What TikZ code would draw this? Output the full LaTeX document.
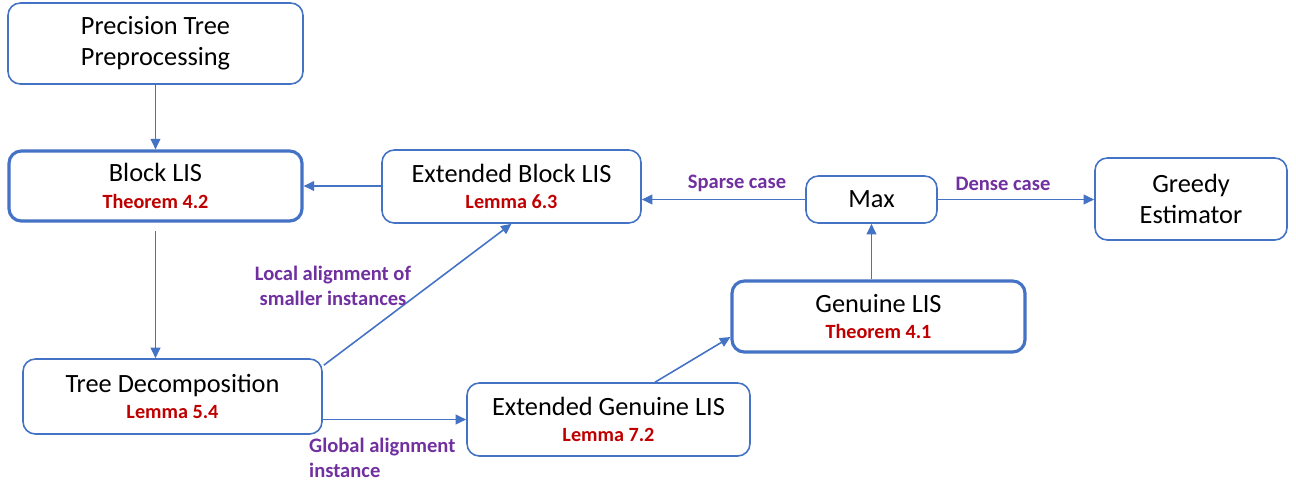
\documentclass[tikz,border=0pt]{standalone}
\usepackage{fontspec}
\setmainfont{Carlito}
\usepackage{tikz}
\usetikzlibrary{calc}
\usetikzlibrary{arrows.meta}
\usetikzlibrary{positioning}
\definecolor{boxblue}{RGB}{68,114,196}
\definecolor{lemred}{RGB}{192,0,0}
\definecolor{casepurple}{RGB}{112,48,160}
\newcommand{\lemtxt}[1]{{\fontsize{11.5}{14}\selectfont\bfseries\color{lemred}#1}}

\begin{document}
\begin{tikzpicture}[x=0.02cm, y=-0.02cm,
    font=\fontsize{15}{17.6}\selectfont,
    >={Triangle[length=6pt,width=5.5pt]},
    blk/.style={draw=boxblue, line width=0.9pt, rounded corners=7pt, align=center,
      inner sep=0pt, fill=white},
    thickblk/.style={blk, line width=1.8pt},
    lnk/.style={draw=boxblue, line width=0.9pt},
    casetxt/.style={font=\fontsize{11.7}{14.2}\selectfont\bfseries, text=casepurple}]
            \useasboundingbox (0,0) rectangle (1296,481);
            \node[blk, minimum width=295*0.02cm, minimum height=81*0.02cm] (pre) at (155.5,43.5) {
              Precision Tree\\Preprocessing
            };
            \node[thickblk, minimum width=293*0.02cm, minimum height=70*0.02cm] (block) at (155.5,186) {
              Block LIS\\[-2.5pt]\lemtxt{Theorem 4.2}
            };
            \node[blk, minimum width=259*0.02cm, minimum height=73*0.02cm] (eblock) at (511.5,186.5) {
              Extended Block LIS\\[-2.5pt]\lemtxt{Lemma 6.3}
            };
            \node[blk, minimum width=131*0.02cm, minimum height=47*0.02cm] (max) at (871.5,199.5) {Max};
            \node[blk, minimum width=192*0.02cm, minimum height=82*0.02cm] (greedy) at (1191,199) {
              Greedy\\Estimator
            };
            \node[thickblk, minimum width=293*0.02cm, minimum height=71*0.02cm] (genuine) at (878.5,316.5) {
              Genuine LIS\\[-2.5pt]\lemtxt{Theorem 4.1}
            };
            \node[blk, minimum width=299*0.02cm, minimum height=75*0.02cm] (tree) at (172.5,396.5) {
              Tree Decomposition\\[-2.5pt]\lemtxt{Lemma 5.4}
            };
            \node[blk, minimum width=283*0.02cm, minimum height=73*0.02cm] (egen) at (608.5,419.5) {
              Extended Genuine LIS\\[-2.5pt]\lemtxt{Lemma 7.2}
            };
            % connectors
            \draw[lnk,->] (pre.south) -- (block.north);
            \draw[lnk,->] (eblock.west |- block.east) -- (block.east);
            \draw[lnk,->] (max.west) -- (max.west -| eblock.east);
            \draw[lnk,->] (max.east) -- (max.east -| greedy.west);
            \draw[lnk,->] (genuine.north -| max.south) -- (max.south);
            \draw[lnk,->,shorten <=5pt] (block.south) -- (block.south |- tree.north);
            \draw[lnk,->] ($(tree.north east)+(1,7)$) -- (eblock.south);
            \draw[lnk,->] (tree.east |- egen.west) -- (egen.west);
            \draw[lnk,->] ($(egen.north)+(46.5,0)$) -- ($(genuine.west)+(0,20.5)$);
            % case labels
            \node[casetxt] (sparse) at (737,183) {Sparse case};
            \node[casetxt] (dense) at (1003,184) {Dense case};
            \node[casetxt, align=center] (local) at (333,286) {Local alignment of\\smaller instances};
            \node[casetxt, align=left, anchor=west] (global) at (303,458) {Global alignment\\instance};
          \end{tikzpicture}
\end{document}
